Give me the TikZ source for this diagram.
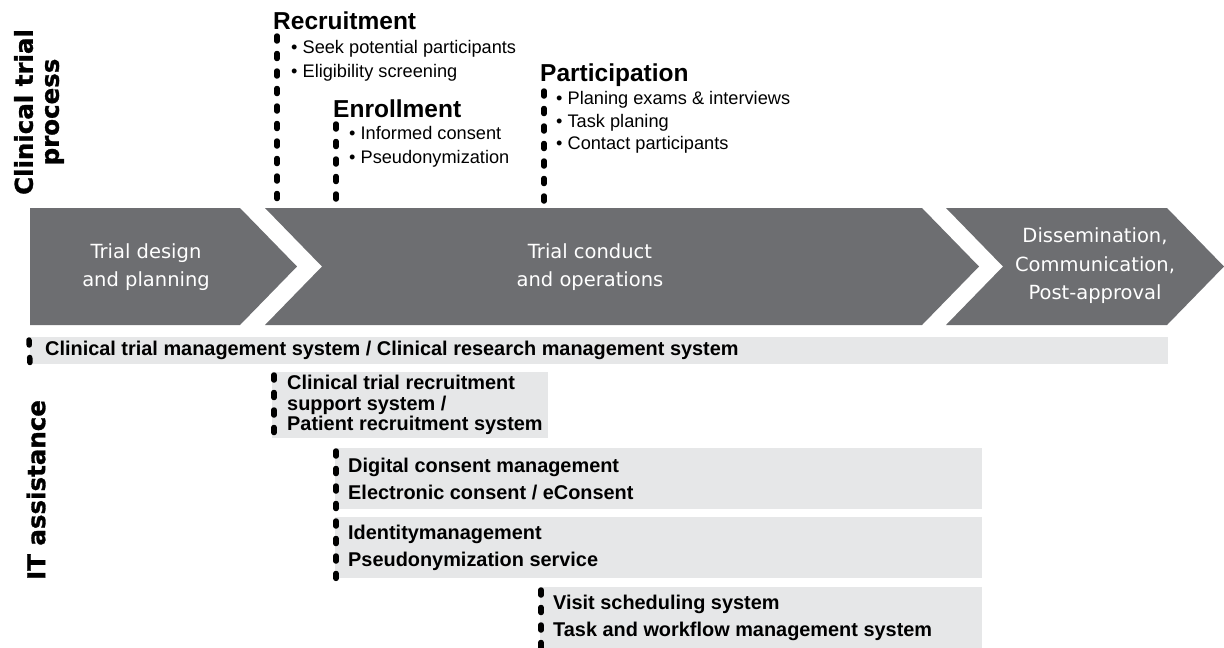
\documentclass[tikz,border=0pt]{standalone}
\usepackage{fontspec}
\setmainfont{Liberation Sans}
\newfontfamily\vera{DejaVu Sans}
\newfontfamily\verahv[FakeBold=1.2]{DejaVu Sans Bold}
\usetikzlibrary{calc}
\definecolor{chev}{HTML}{6D6E71}
\definecolor{barfill}{HTML}{E6E7E8}
\tikzset{
  chevron/.style={fill=chev, draw=none},
  chevtext/.style={text=white, font=\vera\fontsize{19.5}{28.5}\selectfont, align=center, inner sep=0},
  barbox/.style={fill=barfill, draw=none, inner sep=0, anchor=north west},
  bartext/.style={font=\bfseries\fontsize{19.9}{27}\selectfont, align=left, inner sep=0, anchor=west},
  phasehead/.style={font=\bfseries\fontsize{24.5}{28}\selectfont, inner sep=0, anchor=base west},
  bulletitem/.style={font=\fontsize{18.2}{22}\selectfont, inner sep=0, anchor=base west},
  marker/.style={line width=5.5pt, line cap=round, dash pattern=on 5pt off 12.5pt},
  sidelabel/.style={font=\verahv\fontsize{24.5}{26}\selectfont, rotate=90, align=center, inner sep=0},
}
\begin{document}
\begin{tikzpicture}[x=1pt, y=-1pt]
\useasboundingbox (0,0) rectangle (1224,648);

% side labels
\node[sidelabel] (proc) at (39,112) {Clinical trial\\process};
\node[sidelabel] (itas) at (36,490) {IT assistance};

% process chevrons
\path[chevron] (30,208) -- (240,208) -- (297,266.5) -- (240,325) -- (30,325) -- cycle;
\path[chevron] (265,208) -- (922,208) -- (979,266.5) -- (922,325) -- (265,325) -- (322,266.5) -- cycle;
\path[chevron] (946,208) -- (1167,208) -- (1224,266.5) -- (1167,325) -- (946,325) -- (1003,266.5) -- cycle;
\node[chevtext] (design) at (146,267) {Trial design\\and planning};
\node[chevtext] (conduct) at (590,267) {Trial conduct\\and operations};
\node[chevtext] (dissem) at (1095,266) {Dissemination,\\Communication,\\Post-approval};

% phases of trial conduct
\node[phasehead] (recr) at (273,29) {Recruitment};
\node[bulletitem] (r1) at (291,53) {\textbullet\ Seek potential participants};
\node[bulletitem] (r2) at (291,77) {\textbullet\ Eligibility screening};
\node[phasehead] (enrl) at (333,117) {Enrollment};
\node[bulletitem] (e1) at (349,139) {\textbullet\ Informed consent};
\node[bulletitem] (e2) at (349,163) {\textbullet\ Pseudonymization};
\node[phasehead] (part) at (540,81) {Participation};
\node[bulletitem] (p1) at (556,104) {\textbullet\ Planing exams \& interviews};
\node[bulletitem] (p2) at (556,127) {\textbullet\ Task planing};
\node[bulletitem] (p3) at (556,149) {\textbullet\ Contact participants};

\coordinate (recrtop) at (277,36);
\coordinate (recrbot) at (277,203);
\coordinate (enrltop) at (336,124);
\coordinate (enrlbot) at (336,203);
\coordinate (parttop) at (544,91);
\coordinate (partbot) at (544,203);
\draw[marker] (recrtop) -- (recrbot);
\draw[marker] (enrltop) -- (enrlbot);
\draw[marker] (parttop) -- (partbot);

% IT systems
\node[barbox, minimum width=1138pt, minimum height=27pt] (ctms) at (30,337) {};
\node[bartext] (ctmst) at ([xshift=15pt]ctms.west) {Clinical trial management system / Clinical research management system};
\node[barbox, minimum width=276pt, minimum height=66pt] (ctrss) at (272,372) {};
\node[bartext, font=\bfseries\fontsize{19.9}{20.5}\selectfont] (ctrsst) at ([xshift=15pt]ctrss.west) {Clinical trial recruitment\\support system /\\Patient recruitment system};
\node[barbox, minimum width=647pt, minimum height=61pt] (cons) at (335,448) {};
\node[bartext] (const) at ([xshift=13pt]cons.west) {Digital consent management\\Electronic consent / eConsent};
\node[barbox, minimum width=647pt, minimum height=61pt] (idm) at (335,517) {};
\node[bartext] (idmt) at ([xshift=13pt]idm.west) {Identitymanagement\\Pseudonymization service};
\node[barbox, minimum width=442pt, minimum height=61pt] (visit) at (540,587) {};
\node[bartext] (visitt) at ([xshift=13pt]visit.west) {Visit scheduling system\\Task and workflow management system};

\draw[marker] ([xshift=-1pt,yshift=-3pt]ctms.north west) -- (ctms.south west);
\draw[marker] ([xshift=2pt,yshift=-3pt]ctrss.north west) -- ([xshift=2pt]ctrss.south west);
\draw[marker] ([xshift=1pt,yshift=-3pt]cons.north west) -- ([xshift=1pt]idm.south west);
\draw[marker] ([xshift=1pt,yshift=-3pt]visit.north west) -- ([xshift=1pt]visit.south west);
\end{tikzpicture}
\end{document}
